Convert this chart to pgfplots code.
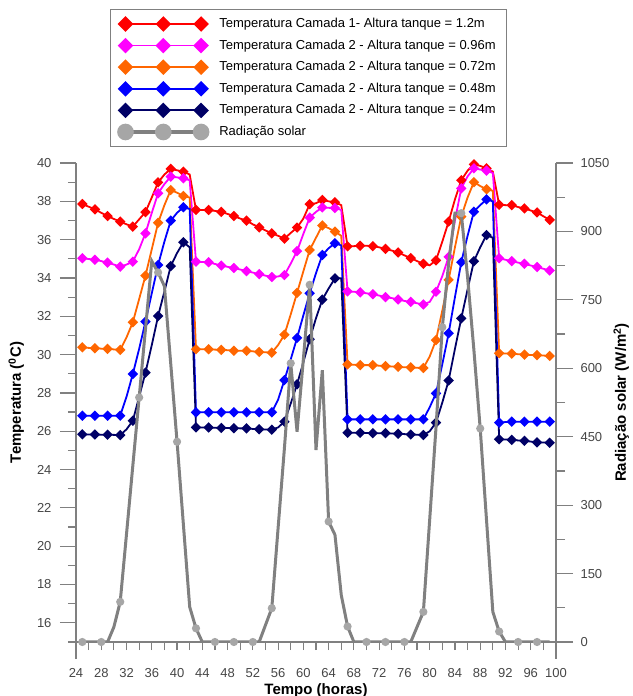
\documentclass[border=0pt]{standalone}
\usepackage{fontspec}
\setmainfont{Liberation Sans}
\usepackage{pgfplots}
\usepackage{pgfplotstable}
\pgfplotsset{compat=1.18}

\definecolor{cRed}{RGB}{255,0,0}
\definecolor{cMag}{RGB}{255,0,255}
\definecolor{cOra}{RGB}{255,102,0}
\definecolor{cBlu}{RGB}{0,0,255}
\definecolor{cNav}{RGB}{0,0,102}
\definecolor{cGry}{RGB}{128,128,128}
\definecolor{cGryM}{RGB}{166,166,166}
\definecolor{axgray}{RGB}{128,128,128}
\definecolor{tickgray}{RGB}{70,70,70}
\newcommand\f{\fontsize{13pt}{15pt}\selectfont}
\newcommand\ft{\fontsize{15pt}{17pt}\selectfont\bfseries}

% h = hora, R..N = temperaturas (C), G = radiacao (W/m2)
\pgfplotstableread{
h  R     M     O     B     N     G
25 37.86 35.03 30.38 26.81 25.84 0
26 37.72 34.99 30.35 26.81 25.83 0
27 37.58 34.95 30.33 26.81 25.83 0
28 37.40 34.88 30.31 26.81 25.82 0
29 37.23 34.80 30.30 26.81 25.82 0
30 37.08 34.70 30.27 26.81 25.81 33
31 36.94 34.59 30.25 26.81 25.80 88
32 36.80 34.70 30.90 27.80 26.10 237
33 36.68 34.85 31.69 28.99 26.55 387
34 37.06 35.50 32.90 30.30 27.80 536
35 37.44 36.33 34.12 31.72 29.06 686
36 38.20 37.40 35.50 33.20 30.50 835
37 38.99 38.42 36.88 34.68 32.01 810
38 39.40 38.90 37.80 35.90 33.30 780
39 39.69 39.29 38.59 36.99 34.62 610
40 39.62 39.25 38.45 37.40 35.30 439
41 39.55 39.20 38.28 37.69 35.86 258
42 39.40 39.10 38.20 37.60 35.60 77
43 37.55 34.85 30.28 26.99 26.20 30
44 37.55 34.83 30.28 26.99 26.20 0
45 37.55 34.82 30.28 26.99 26.20 0
46 37.50 34.73 30.26 26.99 26.18 0
47 37.45 34.65 30.25 26.99 26.17 0
48 37.34 34.58 30.23 26.99 26.17 0
49 37.23 34.52 30.20 26.99 26.16 0
50 37.10 34.44 30.20 26.99 26.15 0
51 36.99 34.36 30.20 26.99 26.15 0
52 36.80 34.28 30.17 26.99 26.12 0
53 36.64 34.20 30.14 26.99 26.10 0
54 36.48 34.12 30.12 26.99 26.09 37
55 36.33 34.05 30.10 26.99 26.08 74
56 36.20 34.08 30.50 27.65 26.20 250
57 36.05 34.15 31.04 28.67 26.50 425
58 36.35 34.75 32.10 29.75 27.45 611
59 36.63 35.40 33.22 30.87 28.45 461
60 37.10 36.30 34.35 32.05 29.60 620
61 37.85 37.15 35.46 33.20 30.80 783
62 37.90 37.45 36.10 34.25 31.90 421
63 38.07 37.68 36.74 35.20 32.87 596
64 38.00 37.66 36.60 35.55 33.45 264
65 37.95 37.65 36.42 35.81 33.98 235
66 37.80 37.55 36.20 35.70 33.98 103
67 35.65 33.30 29.49 26.62 25.92 34
68 35.66 33.28 29.47 26.62 25.92 0
69 35.68 33.25 29.45 26.62 25.92 0
70 35.68 33.20 29.45 26.62 25.91 0
71 35.66 33.15 29.45 26.62 25.90 0
72 35.60 33.08 29.42 26.62 25.90 0
73 35.52 33.00 29.40 26.62 25.90 0
74 35.43 32.95 29.38 26.62 25.88 0
75 35.33 32.88 29.36 26.62 25.87 0
76 35.18 32.80 29.34 26.62 25.85 0
77 35.04 32.75 29.33 26.62 25.83 0
78 34.88 32.68 29.31 26.62 25.82 33
79 34.74 32.62 29.30 26.62 25.80 66
80 34.66 32.75 29.90 27.25 26.00 268
81 34.92 33.28 30.76 27.98 26.45 470
82 35.90 34.10 32.30 29.50 27.50 690
83 36.94 35.10 33.90 31.11 28.65 830
84 38.10 37.00 35.60 33.00 30.30 940
85 39.10 38.68 37.20 34.82 31.89 940
86 39.60 39.30 38.20 36.20 33.40 800
87 39.93 39.72 39.00 37.46 34.87 640
88 39.85 39.66 38.80 37.80 35.60 468
89 39.72 39.60 38.63 38.10 36.24 267
90 39.55 39.48 38.55 38.00 36.10 66
91 37.82 35.03 30.07 26.45 25.58 23
92 37.80 34.95 30.06 26.48 25.57 0
93 37.80 34.88 30.05 26.50 25.55 0
94 37.70 34.80 30.02 26.50 25.52 0
95 37.63 34.74 30.00 26.50 25.50 0
96 37.52 34.65 29.98 26.50 25.46 0
97 37.42 34.57 29.97 26.50 25.42 0
98 37.22 34.48 29.95 26.50 25.41 0
99 37.03 34.39 29.93 26.50 25.40 0
}\dados

\pgfplotsset{
  base/.style={
    scale only axis, width=480pt, height=479pt,
    xmin=24, xmax=100,
    tick label style={font=\f, text=tickgray},
    label style={font=\ft, text=black},
    /pgf/number format/assume math mode=true,
    /pgf/number format/set thousands separator={},
    axis line style={draw=axgray, line width=1.2pt},
    every tick/.style={draw=axgray, line width=1.2pt},
    tick align=outside,
  },
  temp/.style={line width=1.8pt, mark=square*, mark size=2.8pt,
    mark repeat=2, mark phase=1, mark options={solid, rotate=45}},
  rad/.style={draw=cGry, line width=3pt, mark=*, mark size=2.5pt,
    mark repeat=3, mark phase=1, mark options={draw=cGryM, fill=cGryM}},
}

\begin{document}
\begin{tikzpicture}
% eixo x (horas)
\begin{axis}[base, name=ax,
  ymin=15, ymax=40,
  axis x line*=bottom, axis y line=none,
  xtick={24,28,...,100}, minor xtick={26,30,...,98},
  major tick length=8pt, minor tick length=8pt,
  xticklabel style={yshift=-15pt},
  xlabel={Tempo (horas)},
  xlabel style={at={(axis description cs:0.5,0)}, anchor=base, yshift=-52pt},
]
\end{axis}

% temperaturas
\begin{axis}[base,
  ymin=15, ymax=40,
  axis x line=none, axis y line*=left,
  ytick={16,18,...,40}, minor ytick={15,17,...,39},
  major tick length=16pt, minor tick length=8pt,
  y axis line style={shorten <=-17pt},
  yticklabel style={xshift=-5pt},
  ylabel={Temperatura (\textsuperscript{0}C)},
  ylabel style={at={(axis description cs:-0.1146,0.5)}, anchor=base},
]
\addplot[temp, cRed] table[x=h, y=R]{\dados};
\addplot[temp, cMag] table[x=h, y=M]{\dados};
\addplot[temp, cOra] table[x=h, y=O]{\dados};
\addplot[temp, cBlu] table[x=h, y=B]{\dados};
\addplot[temp, cNav] table[x=h, y=N]{\dados};
\end{axis}

% radiacao solar
\begin{axis}[base,
  ymin=0, ymax=1050,
  axis x line=none, axis y line*=right,
  ytick={0,150,...,1050}, minor ytick={75,225,...,975},
  major tick length=17pt, minor tick length=9pt,
  y axis line style={shorten <=-17pt},
  yticklabel style={xshift=4pt},
  ylabel={Radiação solar (W/m\textsuperscript{2})},
  ylabel style={at={(axis description cs:1.1458,0.5)}, anchor=base},
  legend cell align=left,
  legend style={at={(axis description cs:0.0708,1.3215)}, anchor=north west,
    draw=axgray, line width=1pt, font=\f, inner xsep=8.5pt, inner ysep=6pt, row sep=4.6pt,
    nodes={inner sep=2pt, text height=10pt, text depth=3pt}},
  legend image code/.code={
    \draw[#1, mark repeat=1, mark phase=1]
      plot coordinates {(0pt,0pt) (37.8pt,0pt) (75.6pt,0pt)};
    \path (90pt,0pt);
  },
]
\addlegendimage{temp, cRed, mark size=4.6pt}
\addlegendentry{Temperatura Camada 1- Altura tanque = 1.2m}
\addlegendimage{temp, cMag, mark size=4.6pt}
\addlegendentry{Temperatura Camada 2 - Altura tanque = 0.96m}
\addlegendimage{temp, cOra, mark size=4.6pt}
\addlegendentry{Temperatura Camada 2 - Altura tanque = 0.72m}
\addlegendimage{temp, cBlu, mark size=4.6pt}
\addlegendentry{Temperatura Camada 2 - Altura tanque = 0.48m}
\addlegendimage{temp, cNav, mark size=4.6pt}
\addlegendentry{Temperatura Camada 2 - Altura tanque = 0.24m}
\addlegendimage{rad, mark size=6.5pt, line width=3.6pt}
\addlegendentry{Radiação solar}
\addplot[rad, forget plot] table[x=h, y=G]{\dados};
\end{axis}

\pgfresetboundingbox
\path ([xshift=-76pt,yshift=-54pt]ax.south west) rectangle ([xshift=76pt,yshift=163pt]ax.north east);
\end{tikzpicture}
\end{document}
